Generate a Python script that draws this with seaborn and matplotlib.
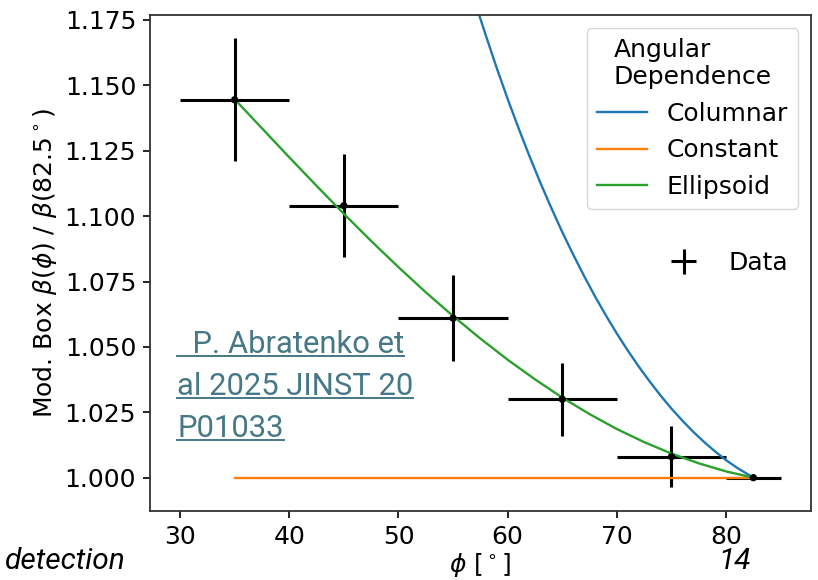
import matplotlib
matplotlib.use("Agg")
import matplotlib.pyplot as plt
from matplotlib.lines import Line2D
import seaborn as sns

# measured points
phi = [35, 45, 55, 65, 75, 82.5]
ratio = [1.1445, 1.104, 1.061, 1.030, 1.008, 1.000]
phi_err = [5, 5, 5, 5, 5, 2.5]
ratio_err = [0.0235, 0.0198, 0.0165, 0.014, 0.0117, 0.0]

# model curves
columnar_phi = [55, 56, 57, 57.5, 58, 59, 60, 61, 62, 63, 64, 65, 66, 67, 68, 69, 70,
                71, 72, 73, 74, 75, 76, 77, 78, 79, 80, 81, 82.5]
columnar_ratio = [1.2103, 1.1959, 1.1822, 1.1755, 1.1691, 1.1566, 1.1448, 1.1336,
                  1.1229, 1.1127, 1.1031, 1.0939, 1.0853, 1.0771, 1.0693, 1.0620,
                  1.0551, 1.0486, 1.0425, 1.0368, 1.0314, 1.0264, 1.0218, 1.0175,
                  1.0136, 1.0100, 1.0067, 1.0038, 1.0000]
constant_phi = [35, 82.5]
constant_ratio = [1.0, 1.0]
ellipsoid_phi = [35, 37.5, 40, 42.5, 45, 47.5, 50, 52.5, 55, 57.5, 60, 62.5, 65,
                 67.5, 70, 72.5, 75, 77.5, 80, 82.5]
ellipsoid_ratio = [1.1447, 1.1336, 1.1225, 1.1116, 1.1009, 1.0905, 1.0805, 1.0709,
                   1.0618, 1.0532, 1.0451, 1.0376, 1.0306, 1.0243, 1.0186, 1.0136,
                   1.0092, 1.0055, 1.0024, 1.0000]

colors = sns.color_palette("tab10")

plt.rcParams['font.size'] = 18

fig = plt.figure(figsize=(8.18, 5.8), dpi=100)
ax = fig.add_axes([0.1834, 0.1195, 0.8077, 0.8546])

eb = ax.errorbar(phi, ratio, xerr=phi_err, yerr=ratio_err, fmt='none',
                 ecolor='black', elinewidth=2.2, zorder=2)

sns.lineplot(x=columnar_phi, y=columnar_ratio, color=colors[0], linewidth=1.7,
             label='Columnar', ax=ax, zorder=2.5)
sns.lineplot(x=constant_phi, y=constant_ratio, color=colors[1], linewidth=1.7,
             label='Constant', ax=ax, zorder=2.5)
sns.lineplot(x=ellipsoid_phi, y=ellipsoid_ratio, color=colors[2], linewidth=1.7,
             label='Ellipsoid', ax=ax, zorder=2.5)
sns.scatterplot(x=phi, y=ratio, color='black', s=28, edgecolor='none',
                legend=False, ax=ax, zorder=3)

ax.set_xlim(27.25, 87.75)
ax.set_ylim(0.98738, 1.1769)
ax.set_xticks([30, 40, 50, 60, 70, 80])
ax.set_yticks([1.000, 1.025, 1.050, 1.075, 1.100, 1.125, 1.150, 1.175])
ax.yaxis.set_major_formatter(matplotlib.ticker.FormatStrFormatter('%.3f'))
ax.tick_params(length=5, width=1.2, pad=5)
for s in ax.spines.values():
    s.set_linewidth(1.3)
    s.set_color('#333333')

ax.set_xlabel(r'$\phi$ [$^\circ$]', labelpad=2)
ax.set_ylabel(r'Mod. Box $\beta(\phi)$ / $\beta(82.5^\circ)$')

handles = ax.get_lines()
line_handles = [h for h in handles if h.get_label() in ('Columnar', 'Constant', 'Ellipsoid')]
leg1 = ax.legend(handles=line_handles, labels=['Columnar', 'Constant', 'Ellipsoid'],
                 title='Angular\nDependence', loc='upper right', fontsize=18,
                 title_fontsize=18)
ax.add_artist(leg1)
ax.legend(handles=[eb], labels=['Data'], loc='center right', frameon=False, fontsize=18)

# slide overlay text
link_color = '#467886'
link_lines = ['  P. Abratenko et', 'al 2025 JINST 20', 'P01033']
link_base = [353, 395, 437]
link_texts = []
for txt, yb in zip(link_lines, link_base):
    t = fig.text(177 / 818, 1 - yb / 580, txt, color=link_color, fontsize=22.3,
                 family='Roboto', ha='left', va='baseline')
    link_texts.append((t, yb))

fig.text(5 / 818, 1 - 569 / 580, 'detection', fontsize=21.5, family='Roboto',
         style='italic', ha='left', va='baseline')
fig.text(718 / 818, 1 - 569 / 580, '14', fontsize=21.5, family='Roboto',
         style='italic', ha='left', va='baseline')

fig.canvas.draw()
r = fig.canvas.get_renderer()
for t, yb in link_texts:
    bb = t.get_window_extent(renderer=r)
    yl = 1 - (yb + 2.5) / 580
    fig.add_artist(Line2D([bb.x0 / 818, bb.x1 / 818], [yl, yl], color=link_color,
                          linewidth=1.4, transform=fig.transFigure))

fig.savefig('out.png', dpi=100)
